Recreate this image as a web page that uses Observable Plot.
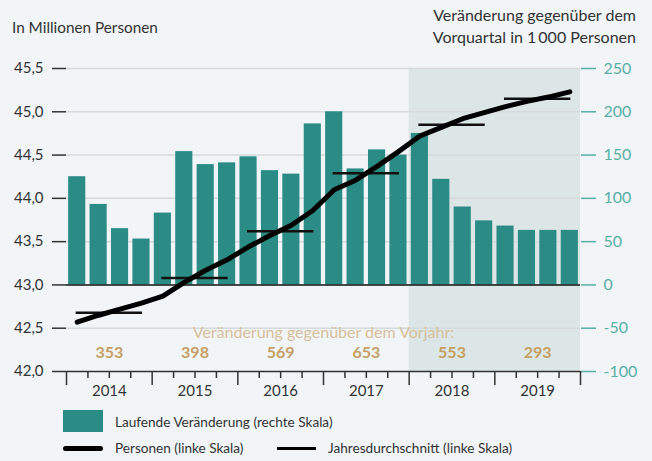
<!DOCTYPE html>
<html><head><meta charset="utf-8">
<script src="https://cdn.jsdelivr.net/npm/d3@7"></script>
<script src="https://cdn.jsdelivr.net/npm/@observablehq/plot@0.6"></script>
<style>
body{margin:0;background:#f1f5f7;font-family:Lato,sans-serif;color:#333}
#wrap{position:relative;width:652px;height:461px;background:#f1f5f7;overflow:hidden}
#wrap svg{position:absolute;left:0;top:0}
.t{position:absolute;font-size:15px;white-space:nowrap;line-height:22px;color:#333}
</style></head><body><div id="wrap"></div>
<script>
const years = [2014, 2015, 2016, 2017, 2018, 2019];
const forecastYears = [2018, 2019];
// quarterly change vs previous quarter, in 1000 persons (right scale)
const changes = [125, 93, 65, 53, 83, 154, 139, 141, 148, 132, 128, 186, 200, 134, 156, 150, 175, 122, 90, 74, 68, 63, 63, 63];
// persons in millions (left scale)
const persons = [42.57, 42.65, 42.72, 42.79, 42.87, 43.03, 43.17, 43.29, 43.44, 43.57, 43.69, 43.86, 44.10, 44.21, 44.37, 44.54, 44.72, 44.82, 44.92, 44.99, 45.06, 45.12, 45.17, 45.23];
// annual averages (left scale)
const annualAvg = [42.68, 43.08, 43.62, 44.29, 44.85, 45.15];
// change vs previous year, in 1000 persons
const yearChanges = [353, 398, 569, 653, 553, 293];
const leftTicks = [42, 42.5, 43, 43.5, 44, 44.5, 45, 45.5];
const rightTicks = [-100, -50, 0, 50, 100, 150, 200, 250];
const annotationLabel = "Veränderung gegenüber dem Vorjahr:";

const toLeft = v => 43 + v / 100;
const fromLeft = y => Math.round((y - 43) * 100);
const data = changes.map((v, i) => ({i, v, p: persons[i]}));
const q = 4;
const teal = "#2a8c85", axisTeal = "#5aaea6", tan = "#c4a064", lightTan = "#d6c09c";

const chart = Plot.plot({
  width: 652, height: 461,
  marginTop: 68, marginBottom: 90, marginLeft: 66, marginRight: 72,
  style: {background: "transparent", fontFamily: "Lato, sans-serif", fontSize: "15px", color: "#333"},
  x: {domain: [0, changes.length], axis: null},
  y: {domain: [leftTicks[0], leftTicks[leftTicks.length - 1]], axis: null},
  marks: [
    Plot.rect([forecastYears], {
      x1: d => (d[0] - years[0]) * q, x2: d => (d[d.length - 1] - years[0] + 1) * q,
      y1: leftTicks[0], y2: leftTicks[leftTicks.length - 1], fill: "#dde6e7"
    }),
    Plot.ruleY(leftTicks.filter(t => t !== 42 && t !== 43), {stroke: "#d6dadc", strokeWidth: 1.5}),
    Plot.rect(data, {x1: d => d.i + 0.1, x2: d => d.i + 0.9, y1: 43, y2: d => toLeft(d.v), fill: teal}),
    Plot.ruleY([43], {stroke: "#111", strokeWidth: 1.5}),
    Plot.ruleY([42], {stroke: "#333", strokeWidth: 1.5}),
    Plot.ruleY(annualAvg, {y: d => d, x1: (d, i) => i * q + 0.45, x2: (d, i) => i * q + 3.55, stroke: "#111", strokeWidth: 2.5}),
    Plot.line(data, {x: d => d.i + 0.5, y: "p", stroke: "#000", strokeWidth: 5, strokeLinecap: "round", strokeLinejoin: "round"}),
    Plot.axisY(leftTicks, {anchor: "left", tickSize: 14, tickPadding: 9, strokeWidth: 1.5, stroke: "#333", fill: "#333",
      tickFormat: d => d.toFixed(1).replace(".", ","), fontSize: 15, label: null}),
    Plot.axisY(rightTicks.map(toLeft), {anchor: "right", tickSize: 15, tickPadding: 8, strokeWidth: 1.5, stroke: axisTeal, fill: axisTeal,
      tickFormat: d => `${fromLeft(d)}`, fontSize: 16, label: null}),
    Plot.axisX(d3.range(0, changes.length + 1, q), {anchor: "bottom", tickSize: 14, strokeWidth: 1.5, stroke: "#333", tickFormat: () => "", label: null}),
    Plot.axisX(d3.range(1, changes.length).filter(i => i % q), {anchor: "bottom", tickSize: 7, strokeWidth: 1.5, stroke: "#333", tickFormat: () => "", label: null}),
    Plot.axisX(years.map((y, i) => i * q + 2), {anchor: "bottom", tickSize: 0, tickPadding: 14, fill: "#333",
      tickFormat: d => `${years[(d - 2) / q]}`, fontSize: 15, label: null}),
    Plot.text(yearChanges, {x: (d, i) => i * q + 2, frameAnchor: "bottom", dy: -14, text: d => `${d}`,
      fill: tan, fontWeight: "bold", fontSize: 16}),
    Plot.text([annotationLabel], {x: () => changes.length / 2, frameAnchor: "bottom", dy: -34, text: d => d,
      fill: lightTan, fontSize: 16})
  ]
});
const wrap = document.getElementById("wrap");
wrap.appendChild(chart);

function addText(txt, css) {
  const el = document.createElement("div");
  el.className = "t";
  el.innerHTML = txt;
  Object.assign(el.style, css);
  wrap.appendChild(el);
  return el;
}
function addBox(css) {
  const el = document.createElement("div");
  el.style.position = "absolute";
  Object.assign(el.style, css);
  wrap.appendChild(el);
}
addText("In Millionen Personen", {left: "12px", top: "16px", fontSize: "15.3px"});
addText("Veränderung gegenüber dem<br>Vorquartal in 1\u2009000 Personen", {right: "16px", top: "4px", textAlign: "right", fontSize: "16px"});
addBox({left: "63px", top: "410px", width: "40px", height: "22px", background: teal});
addText("Laufende Veränderung (rechte Skala)", {left: "115px", top: "411px", fontSize: "13.6px"});
addBox({left: "63px", top: "445.5px", width: "40px", height: "5px", background: "#000", borderRadius: "3px"});
addText("Personen (linke Skala)", {left: "115px", top: "437px", fontSize: "13.6px"});
addBox({left: "277px", top: "447px", width: "39px", height: "2.5px", background: "#000"});
addText("Jahresdurchschnitt (linke Skala)", {left: "328px", top: "437px", fontSize: "13.6px"});
</script></body></html>
